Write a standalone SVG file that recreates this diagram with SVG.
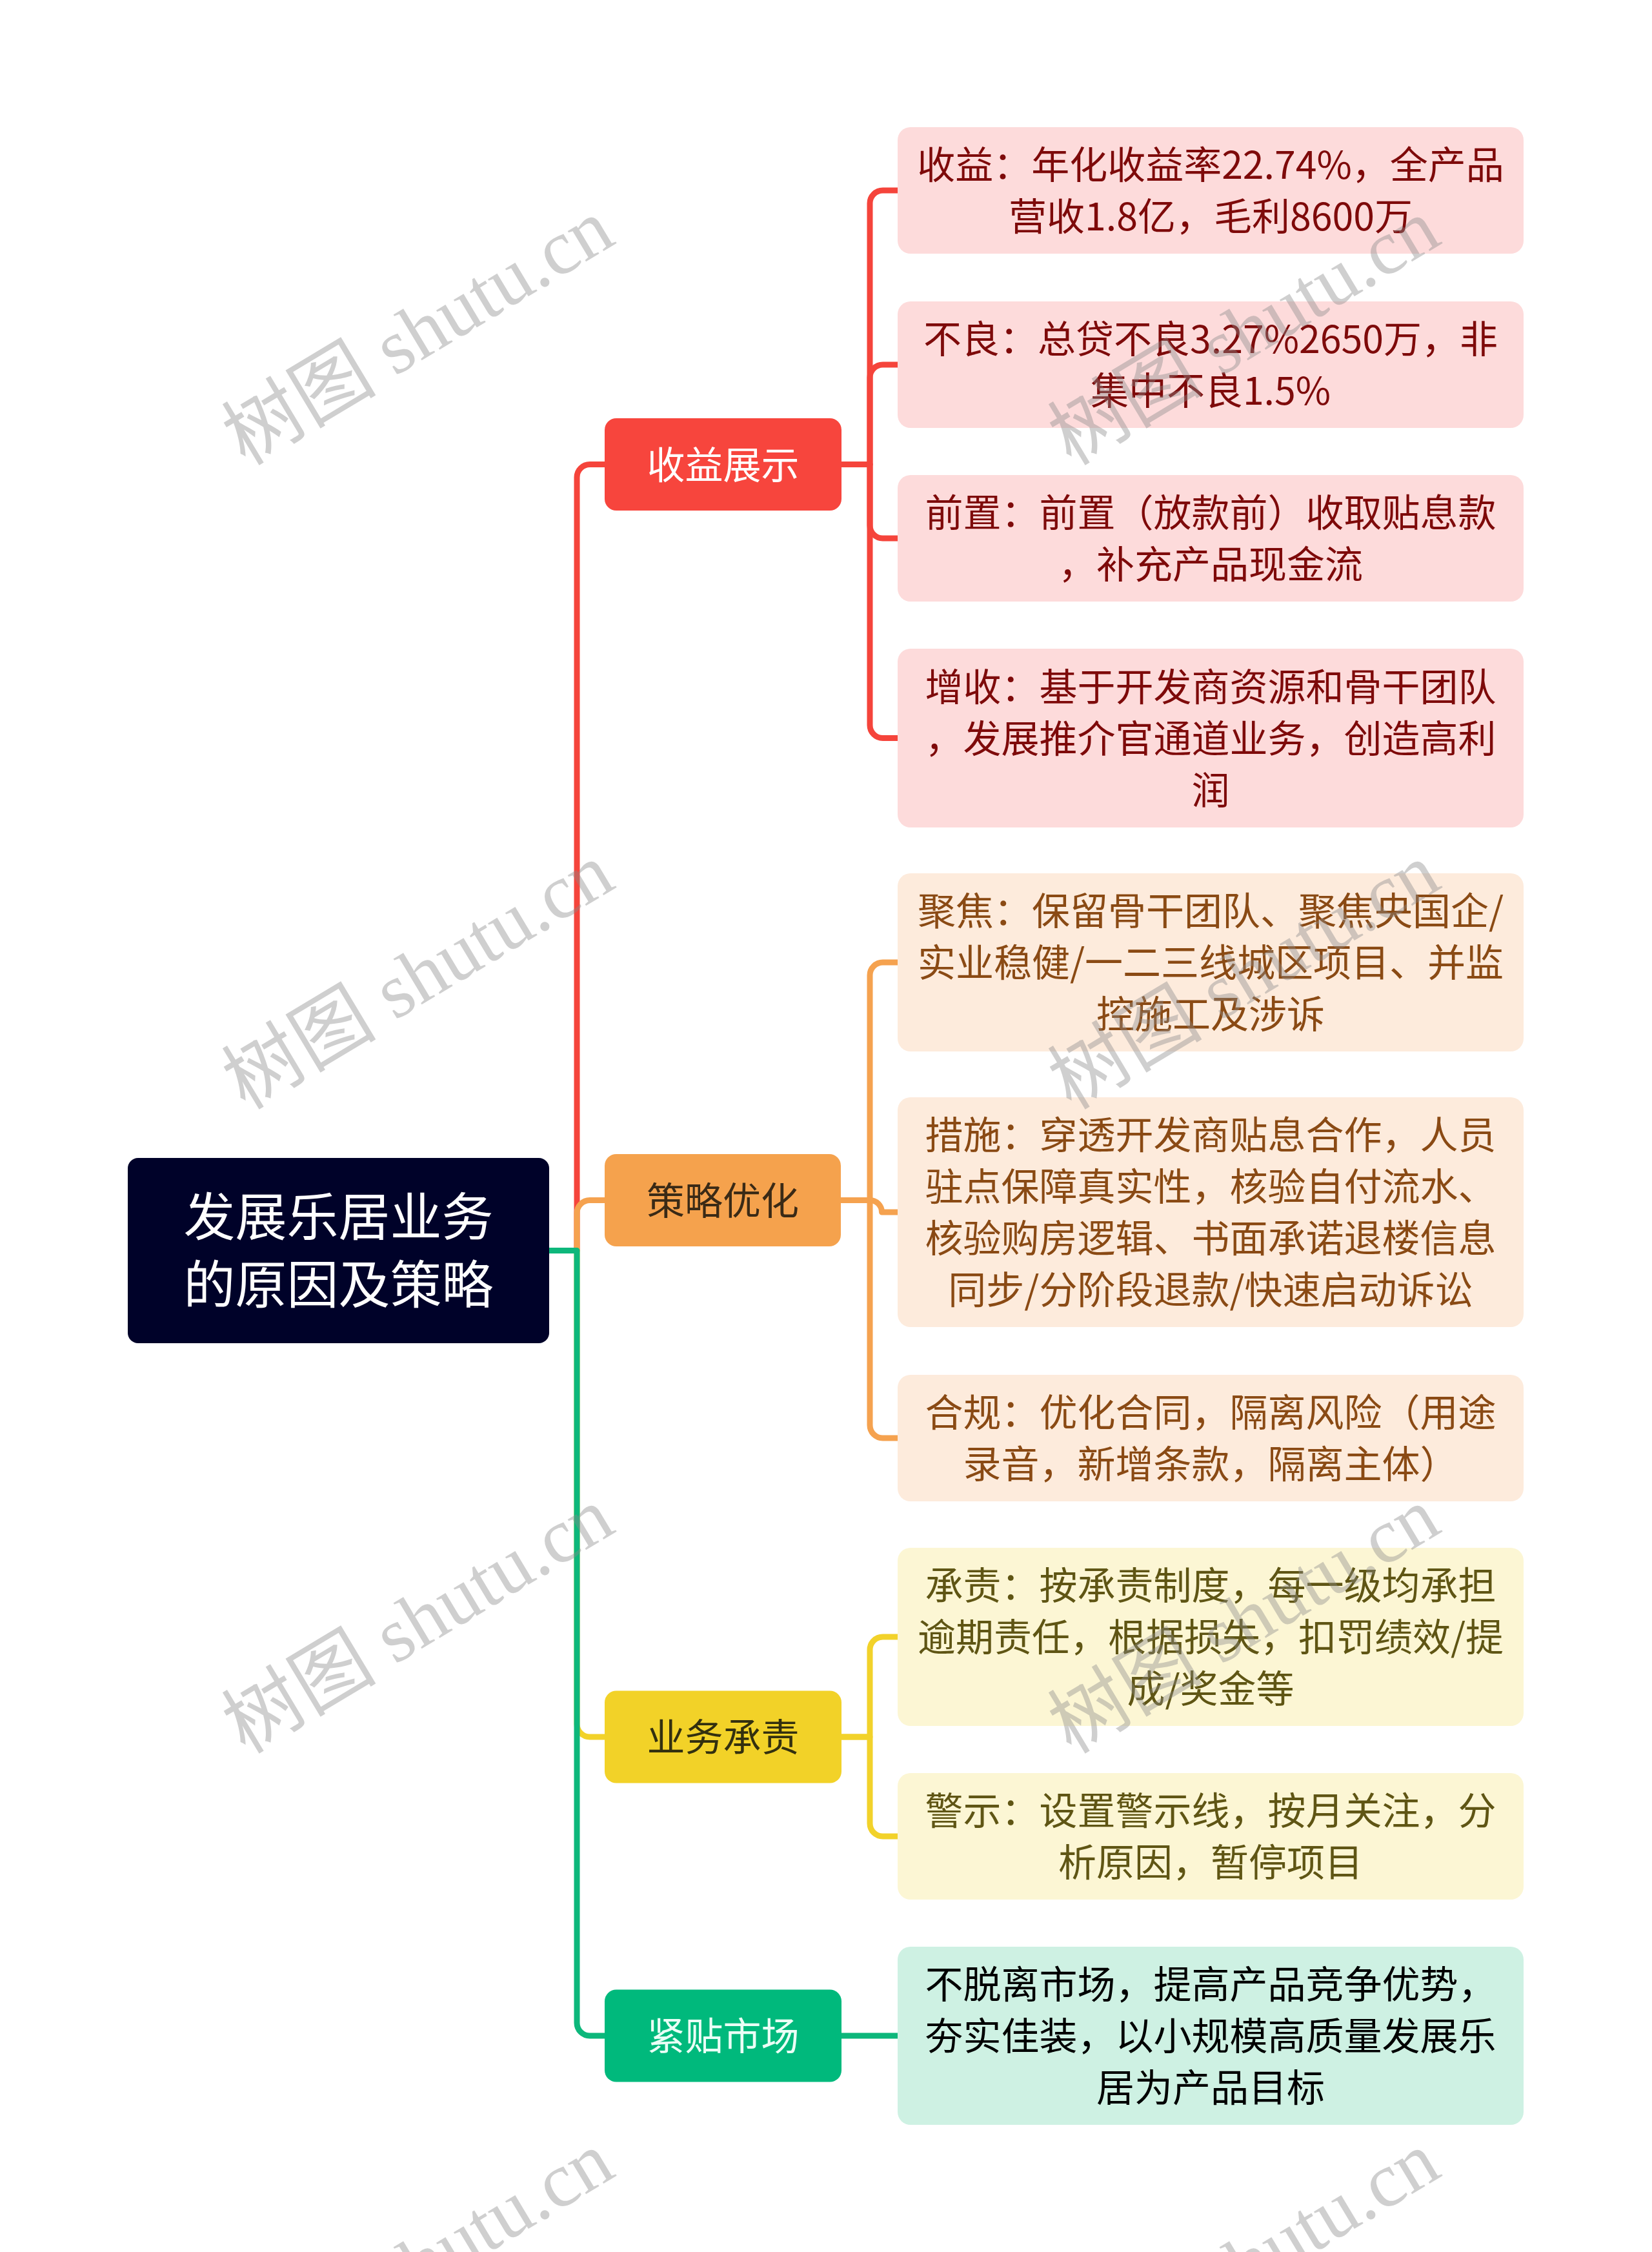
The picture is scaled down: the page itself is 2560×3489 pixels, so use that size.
<svg xmlns="http://www.w3.org/2000/svg" width="2560" height="3489" viewBox="0 0 2560 3489">
<style>
text{font-family:"Noto Sans CJK SC","Noto Sans",sans-serif;text-anchor:middle}
.c{fill:none;stroke-width:9;stroke-linejoin:round}
.l2{font-size:59px}
.l1{font-size:59px}
.root{font-size:80px;fill:#ffffff}
.wm{font-family:"Liberation Serif","Noto Sans CJK SC",serif;font-size:120px;fill:#8a8a8a;opacity:0.4}
</style>
<rect width="2560" height="3489" fill="#ffffff"/>
<g id="connectors">
<path class="c" stroke="#F5443B" d="M851 1937.5 H894 V739.5 A20 20 0 0 1 914 719.5 H937"/>
<path class="c" stroke="#F5A24F" d="M851 1937.5 H894 V1879.5 A20 20 0 0 1 914 1859.5 H937"/>
<path class="c" stroke="#F2D22A" d="M851 1937.5 H894 V2671 A20 20 0 0 0 914 2691 H937"/>
<path class="c" stroke="#0DB77B" d="M851 1937.5 H894 V3134 A20 20 0 0 0 914 3154 H937"/>
<path class="c" stroke="#F5443B" d="M1304 719.5 H1348 V315 A20 20 0 0 1 1368 295 H1391"/>
<path class="c" stroke="#F5443B" d="M1304 719.5 H1348 V585 A20 20 0 0 1 1368 565 H1391"/>
<path class="c" stroke="#F5443B" d="M1304 719.5 H1348 V814 A20 20 0 0 0 1368 834 H1391"/>
<path class="c" stroke="#F5443B" d="M1304 719.5 H1348 V1123.5 A20 20 0 0 0 1368 1143.5 H1391"/>
<path class="c" stroke="#F5A24F" d="M1303 1859.5 H1348 V1511 A20 20 0 0 1 1368 1491 H1391"/>
<path class="c" stroke="#F5A24F" d="M1303 1859.5 H1348 A18.5 18.5 0 0 1 1366.5 1878 H1391"/>
<path class="c" stroke="#F5A24F" d="M1303 1859.5 H1348 V2208 A20 20 0 0 0 1368 2228 H1391"/>
<path class="c" stroke="#F2D22A" d="M1304 2691 H1348 V2556 A20 20 0 0 1 1368 2536 H1391"/>
<path class="c" stroke="#F2D22A" d="M1304 2691 H1348 V2825 A20 20 0 0 0 1368 2845 H1391"/>
<path class="c" stroke="#0DB77B" d="M1304 3154 H1391"/>
</g>
<g id="root">
<rect x="198" y="1794" width="653" height="287" rx="16" fill="#000229"/>
<text class="root" x="524.5" y="1914">发展乐居业务</text>
<text class="root" x="524.5" y="2019">的原因及策略</text>
</g>
<g id="n1">
<rect x="937" y="648" width="367" height="143" rx="18" fill="#F7453D"/>
<text class="l1" x="1120.5" y="741.5" fill="#ffffff">收益展示</text>
</g>
<g id="n2">
<rect x="937" y="1788" width="366" height="143" rx="18" fill="#F5A24D"/>
<text class="l1" x="1120" y="1881.5" fill="#3A2A16">策略优化</text>
</g>
<g id="n3">
<rect x="937" y="2619.5" width="367" height="143" rx="18" fill="#F2D228"/>
<text class="l1" x="1120.5" y="2713" fill="#33300F">业务承责</text>
</g>
<g id="n4">
<rect x="937" y="3082.5" width="367" height="143" rx="18" fill="#00B97C"/>
<text class="l1" x="1120.5" y="3176" fill="#EAFFF6">紧贴市场</text>
</g>
<g id="n1a">
<rect x="1391" y="197" width="970" height="196" rx="20" fill="#FDDBDB"/>
<text class="l2" fill="#7E0A0A"><tspan x="1876" y="277">收益：年化收益率22.74%，全产品</tspan><tspan x="1876" y="357">营收1.8亿，毛利8600万</tspan></text>
</g>
<g id="n1b">
<rect x="1391" y="467" width="970" height="196" rx="20" fill="#FDDBDB"/>
<text class="l2" fill="#7E0A0A"><tspan x="1876" y="547">不良：总贷不良3.27%2650万，非</tspan><tspan x="1876" y="627">集中不良1.5%</tspan></text>
</g>
<g id="n1c">
<rect x="1391" y="736" width="970" height="196" rx="20" fill="#FDDBDB"/>
<text class="l2" fill="#7E0A0A"><tspan x="1876" y="816">前置：前置（放款前）收取贴息款</tspan><tspan x="1876" y="896">，补充产品现金流</tspan></text>
</g>
<g id="n1d">
<rect x="1391" y="1005" width="970" height="277" rx="20" fill="#FDDBDB"/>
<text class="l2" fill="#7E0A0A"><tspan x="1876" y="1085.5">增收：基于开发商资源和骨干团队</tspan><tspan x="1876" y="1165.5">，发展推介官通道业务，创造高利</tspan><tspan x="1876" y="1245.5">润</tspan></text>
</g>
<g id="n2a">
<rect x="1391" y="1353" width="970" height="276" rx="20" fill="#FDEBDC"/>
<text class="l2" fill="#8A4A14"><tspan x="1876" y="1433">聚焦：保留骨干团队、聚焦央国企/</tspan><tspan x="1876" y="1513">实业稳健/一二三线城区项目、并监</tspan><tspan x="1876" y="1593">控施工及涉诉</tspan></text>
</g>
<g id="n2b">
<rect x="1391" y="1700" width="970" height="356" rx="20" fill="#FDEBDC"/>
<text class="l2" fill="#8A4A14"><tspan x="1876" y="1780">措施：穿透开发商贴息合作，人员</tspan><tspan x="1876" y="1860">驻点保障真实性，核验自付流水、</tspan><tspan x="1876" y="1940">核验购房逻辑、书面承诺退楼信息</tspan><tspan x="1876" y="2020">同步/分阶段退款/快速启动诉讼</tspan></text>
</g>
<g id="n2c">
<rect x="1391" y="2130" width="970" height="196" rx="20" fill="#FDEBDC"/>
<text class="l2" fill="#8A4A14"><tspan x="1876" y="2210">合规：优化合同，隔离风险（用途</tspan><tspan x="1876" y="2290">录音，新增条款，隔离主体）</tspan></text>
</g>
<g id="n3a">
<rect x="1391" y="2398" width="970" height="276" rx="20" fill="#FCF6D4"/>
<text class="l2" fill="#5F5514"><tspan x="1876" y="2478">承责：按承责制度，每一级均承担</tspan><tspan x="1876" y="2558">逾期责任，根据损失，扣罚绩效/提</tspan><tspan x="1876" y="2638">成/奖金等</tspan></text>
</g>
<g id="n3b">
<rect x="1391" y="2747" width="970" height="196" rx="20" fill="#FCF6D4"/>
<text class="l2" fill="#5F5514"><tspan x="1876" y="2827">警示：设置警示线，按月关注，分</tspan><tspan x="1876" y="2907">析原因，暂停项目</tspan></text>
</g>
<g id="n4a">
<rect x="1391" y="3016" width="970" height="276" rx="20" fill="#CEF1E3"/>
<text class="l2" fill="#000000"><tspan x="1876" y="3096">不脱离市场，提高产品竞争优势，</tspan><tspan x="1876" y="3176">夯实佳装，以小规模高质量发展乐</tspan><tspan x="1876" y="3256">居为产品目标</tspan></text>
</g>
<g id="watermarks">
<text class="wm" transform="translate(648 515) rotate(-31)" x="0" y="40">树图 shutu.cn</text>
<text class="wm" transform="translate(1928 515) rotate(-31)" x="0" y="40">树图 shutu.cn</text>
<text class="wm" transform="translate(648 1513) rotate(-31)" x="0" y="40">树图 shutu.cn</text>
<text class="wm" transform="translate(1928 1513) rotate(-31)" x="0" y="40">树图 shutu.cn</text>
<text class="wm" transform="translate(648 2511) rotate(-31)" x="0" y="40">树图 shutu.cn</text>
<text class="wm" transform="translate(1928 2511) rotate(-31)" x="0" y="40">树图 shutu.cn</text>
<text class="wm" transform="translate(648 3509) rotate(-31)" x="0" y="40">树图 shutu.cn</text>
<text class="wm" transform="translate(1928 3509) rotate(-31)" x="0" y="40">树图 shutu.cn</text>
</g>
</svg>
